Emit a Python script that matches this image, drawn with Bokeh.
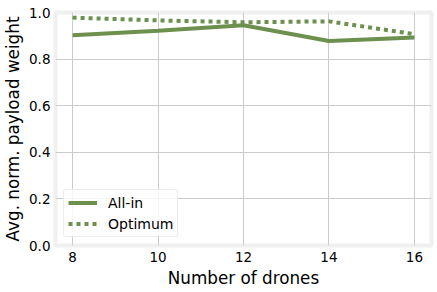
from bokeh.plotting import figure
from bokeh.models import Range1d, FixedTicker, PrintfTickFormatter, Legend, LegendItem
from bokeh.embed import file_html
from bokeh.resources import INLINE

# Average normalised payload weight per fleet size
drones = [8, 10, 12, 14, 16]
all_in = [0.902, 0.922, 0.945, 0.878, 0.893]
optimum = [0.978, 0.966, 0.958, 0.962, 0.907]

x_ticks = [8, 10, 12, 14, 16]
y_ticks = [0.0, 0.2, 0.4, 0.6, 0.8, 1.0]

GREEN = "#6d904f"
FONT = "DejaVu Sans"

p = figure(
    width=437, height=292,
    output_backend="svg", toolbar_location=None,
    x_range=Range1d(7.6, 16.4), y_range=Range1d(0, 1),
    min_border_left=55, min_border_right=6,
    min_border_top=12, min_border_bottom=47,
)
p.background_fill_color = "white"
p.border_fill_color = "white"
p.outline_line_color = "#f0f0f0"
p.outline_line_width = 4

r_all = p.line(drones, all_in, line_color=GREEN, line_width=4)
r_opt = p.line(drones, optimum, line_color=GREEN, line_width=4,
               line_dash="4 4", line_cap="butt")

for ax in (p.xaxis[0], p.yaxis[0]):
    ax.axis_line_color = None
    ax.major_tick_line_color = None
    ax.minor_tick_line_color = None
    ax.major_tick_out = 0
    ax.major_tick_in = 0
    ax.major_label_text_font = FONT
    ax.major_label_text_font_size = "13.5px"
    ax.major_label_text_color = "black"
    ax.axis_label_text_font = FONT
    ax.axis_label_text_font_size = "16.8px"
    ax.axis_label_text_font_style = "normal"
    ax.axis_label_text_color = "black"

p.xaxis[0].ticker = FixedTicker(ticks=x_ticks)
p.yaxis[0].ticker = FixedTicker(ticks=y_ticks)
p.yaxis[0].formatter = PrintfTickFormatter(format="%.1f")
p.xaxis[0].axis_label = "Number of drones"
p.yaxis[0].axis_label = "Avg. norm. payload weight"
p.xaxis[0].major_label_standoff = 6
p.yaxis[0].major_label_standoff = 5
p.xaxis[0].axis_label_standoff = 3
p.yaxis[0].axis_label_standoff = 3

p.xgrid.ticker = FixedTicker(ticks=x_ticks)
p.ygrid.ticker = FixedTicker(ticks=y_ticks)
for g in (p.xgrid[0], p.ygrid[0]):
    g.grid_line_color = "#cbcbcb"
    g.grid_line_width = 1

legend = Legend(
    items=[LegendItem(label="All-in", renderers=[r_all]),
           LegendItem(label="Optimum", renderers=[r_opt])],
    location="bottom_left",
    margin=8, padding=4, spacing=4,
    glyph_width=29, glyph_height=17, label_height=17,
    label_standoff=11,
    label_text_font=FONT, label_text_font_size="14px",
    label_text_color="black",
    border_line_color="#d9d9d9", border_line_width=1,
    border_radius=3,
    background_fill_color="white", background_fill_alpha=0.8,
)
p.add_layout(legend)

open("out.html", "w").write(file_html(p, INLINE))
